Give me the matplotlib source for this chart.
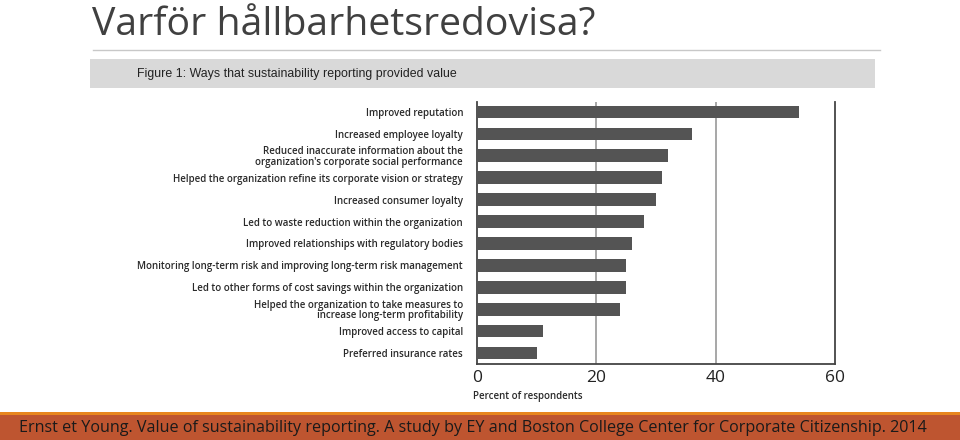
import matplotlib
matplotlib.use("Agg")
import matplotlib.pyplot as plt
from matplotlib.patches import Rectangle
from matplotlib.lines import Line2D

# data
categories = [
    "Improved reputation",
    "Increased employee loyalty",
    "Reduced inaccurate information about the\norganization's corporate social performance",
    "Helped the organization refine its corporate vision or strategy",
    "Increased consumer loyalty",
    "Led to waste reduction within the organization",
    "Improved relationships with regulatory bodies",
    "Monitoring long-term risk and improving long-term risk management",
    "Led to other forms of cost savings within the organization",
    "Helped the organization to take measures to\nincrease long-term profitability",
    "Improved access to capital",
    "Preferred insurance rates",
]
percent = [54, 36, 32, 31, 30, 28, 26, 25, 25, 24, 11, 10]
x_ticks = [0, 20, 40, 60]

W, H = 960, 440
fig = plt.figure(figsize=(W / 100, H / 100), dpi=100)
fig.patch.set_facecolor("white")


def fx(px):
    return px / W


def fy(py):
    return 1 - py / H


# slide title and rule
fig.text(fx(92), fy(35), "Varför hållbarhetsredovisa?", fontsize=28.3,
         family="Open Sans", color="#404040", va="baseline", ha="left")
fig.add_artist(Line2D([fx(93), fx(880)], [fy(50), fy(50)], color="#c8c8c8", lw=1))

# grey figure header band
fig.add_artist(Rectangle((fx(90), fy(88)), fx(875) - fx(90), fy(59) - fy(88),
                         transform=fig.transFigure, color="#d9d9d9", lw=0))
fig.text(fx(137), fy(73.5), "Figure 1: Ways that sustainability reporting provided value",
         fontsize=8.9, family="Liberation Sans", color="#222222", va="center", ha="left")

# bar chart
ax = fig.add_axes([fx(477), fy(364), fx(835) - fx(477), fy(101.7) - fy(364)])
ypos = list(range(len(categories)))
ax.barh(ypos, percent, height=0.58, color="#545454", zorder=3)
ax.set_ylim(len(categories) - 0.5, -0.47)
ax.set_xlim(0, 60)
ax.set_yticks(ypos)
ax.set_yticklabels(categories, fontsize=7.0, family="Open Sans", fontweight="semibold",
                   color="#2a2a2a", linespacing=0.95)
ax.set_xticks(x_ticks)
ax.set_xticklabels([str(t) for t in x_ticks], fontsize=12.5, family="Open Sans", color="#222222")
ax.tick_params(axis="y", length=0, pad=10)
ax.tick_params(axis="x", length=0, pad=4.5)
for t in [20, 40]:
    ax.axvline(t, color="#a0a0a0", lw=1.3, zorder=1)
ax.spines["top"].set_visible(False)
for s in ["left", "bottom", "right"]:
    ax.spines[s].set_color("#444444")
    ax.spines[s].set_linewidth(1.3)
fig.text(fx(473), fy(396), "Percent of respondents", fontsize=7.0, family="Open Sans",
         fontweight="semibold", color="#2a2a2a", va="center", ha="left")

# orange footer
fig.add_artist(Rectangle((0, 0), 1, fy(412), transform=fig.transFigure,
                         color="#e8861e", lw=0))
fig.add_artist(Rectangle((0, 0), 1, fy(414.5), transform=fig.transFigure,
                         color="#be5530", lw=0))
fig.text(fx(473), fy(428), "Ernst et Young. Value of sustainability reporting. A study by EY and "
         "Boston College Center for Corporate Citizenship. 2014",
         fontsize=11.6, family="Open Sans", color="#1a1a1a", va="center", ha="center")

fig.savefig("out.png", dpi=100)
